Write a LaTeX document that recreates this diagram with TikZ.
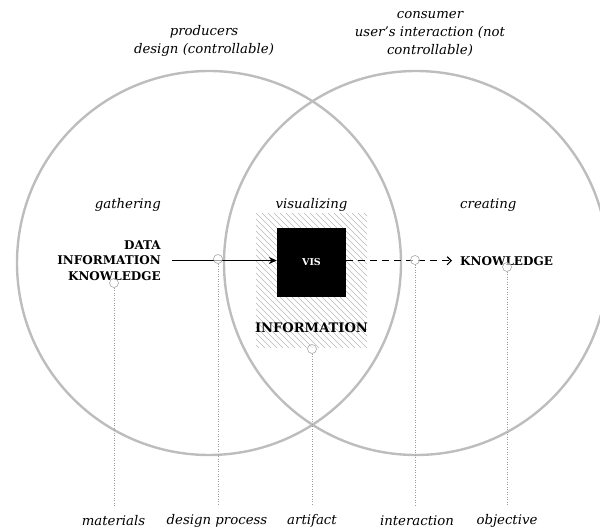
\documentclass[tikz,border=0pt]{standalone}
\usepackage{fontspec}
\setmainfont{DejaVu Serif}
\usetikzlibrary{arrows.meta}
\definecolor{ringgray}{HTML}{BDBDBD}
\definecolor{dotgray}{HTML}{9A9A9A}
\definecolor{hatchgray}{HTML}{B8B8B8}
\begin{document}
\begin{tikzpicture}[x=1pt,y=-1pt,
  ring/.style={draw=ringgray, line width=2.4pt},
  lbl/.style={font=\fontsize{13.3}{18}\selectfont\itshape, align=center, inner sep=0},
  big/.style={font=\fontsize{12}{15.5}\selectfont\bfseries, inner sep=0},
  pin/.style={circle, draw=dotgray, line width=0.5pt, minimum size=9pt, inner sep=0, fill=white, fill opacity=0.6},
  guide/.style={draw=dotgray, line width=0.5pt, dotted},
]
\useasboundingbox (0,0) rectangle (600,529);
\begin{scope}
  \clip (0,0) rectangle (600,529);
  \draw[ring] (209,263) circle[radius=192];
  \draw[ring] (416,263) circle[radius=192];
\end{scope}
% hatched artifact area
\begin{scope}
  \clip (256,213) rectangle (367,348);
  \foreach \i in {-144,-138,...,114} \draw[hatchgray, line width=0.6pt] (256+\i,213) -- ++(140,140);
\end{scope}
% top labels
\node[lbl] (prod) at (204,41) {producers\\design (controllable)};
\node[lbl] (cons) at (430,33.5) {consumer\\user’s interaction (not\\controllable)};
% stage labels
\node[lbl, anchor=east] (gath) at (161,205) {gathering};
\node[lbl] (visu) at (311.5,205) {visualizing};
\node[lbl, anchor=west] (crea) at (460,205) {creating};
% main nodes
\node[big, align=right, anchor=east] (src) at (161,260.5) {DATA\\INFORMATION\\KNOWLEDGE};
\node[fill=black, minimum size=69pt, inner sep=0, text=white, font=\fontsize{9.5}{10}\selectfont\bfseries] (vis) at (311.5,262.5) {VIS};
\node[big, anchor=west] (know) at (460,260.7) {KNOWLEDGE};
\node[inner sep=0, font=\fontsize{13.1}{15}\selectfont\bfseries] (info) at (311.5,328) {INFORMATION};
% connectors
\draw[line width=0.8pt, -{Stealth[length=8pt,width=7pt]}, shorten <=11pt] (src.east) -- (src.east -| vis.west);
\draw[line width=0.8pt, dash pattern=on 7pt off 5pt, -{Straight Barb[length=4pt,width=8pt,line width=1.2pt]}, shorten >=8pt] (vis.east |- know.west) -- (know.west);
% pins
\node[pin] (p1) at (114,283) {};
\node[pin] (p2) at (218,259) {};
\node[pin] (p3) at (312,349) {};
\node[pin] (p4) at (415,260) {};
\node[pin] (p5) at (507,267) {};
% bottom labels
\node[lbl] (l1) at (113.5,521) {materials};
\node[lbl] (l2) at (217,521) {design process};
\node[lbl] (l3) at (312,521) {artifact};
\node[lbl] (l4) at (417,521) {interaction};
\node[lbl] (l5) at (507,521) {objective};
\foreach \k in {1,...,5} \draw[guide, shorten >=9pt] (p\k.south) -- (p\k.south |- l\k.north);
\end{tikzpicture}
\end{document}
